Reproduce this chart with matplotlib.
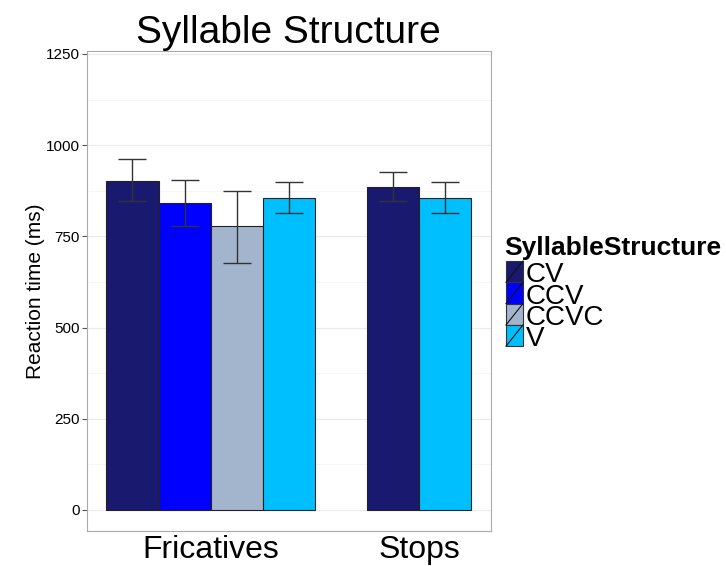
import numpy as np
import matplotlib
matplotlib.use('Agg')
from matplotlib import pyplot as plt
from matplotlib.patches import Rectangle
from matplotlib.lines import Line2D

plt.rcParams['font.family'] = ['Liberation Sans', 'DejaVu Sans']

# mean reaction time with error bar ends, per manner and syllable structure
manners = ['Fricatives', 'Stops']
structures = ['CV', 'CCV', 'CCVC', 'V']
colors = ['#191970', '#0000ff', '#a2b5cd', '#00bfff']

fric_mean = [903, 842, 777, 856]
fric_low = [848, 777, 676, 815]
fric_high = [963, 905, 875, 900]

stop_structs = ['CV', 'V']
stop_mean = [886, 856]
stop_low = [848, 815]
stop_high = [925, 900]

W, H = 726, 566
fig = plt.figure(figsize=(W / 100, H / 100), dpi=100)
ax = fig.add_axes([87 / W, 1 - 531 / H, 404 / W, 480 / H])


def fx(px):
    return px / W


def fy(py):
    return 1 - py / H


w = 0.25
offsets4 = np.array([-1.5, -0.5, 0.5, 1.5]) * w
offsets2 = np.array([-0.5, 0.5]) * w

for i, s in enumerate(structures):
    ax.bar(1 + offsets4[i], fric_mean[i], w, color=colors[i], edgecolor='#222222', lw=0.8, zorder=2)
    ax.errorbar(1 + offsets4[i], fric_mean[i],
                yerr=[[fric_mean[i] - fric_low[i]], [fric_high[i] - fric_mean[i]]],
                fmt='none', ecolor='#333333', elinewidth=1, capsize=10, capthick=1, zorder=3)

for j, s in enumerate(stop_structs):
    c = colors[structures.index(s)]
    ax.bar(2 + offsets2[j], stop_mean[j], w, color=c, edgecolor='#222222', lw=0.8, zorder=2)
    ax.errorbar(2 + offsets2[j], stop_mean[j],
                yerr=[[stop_mean[j] - stop_low[j]], [stop_high[j] - stop_mean[j]]],
                fmt='none', ecolor='#333333', elinewidth=1, capsize=10, capthick=1, zorder=3)

ax.set_xlim(0.407, 2.344)
ax.set_ylim(-57.6, 1258)
ax.set_yticks([0, 250, 500, 750, 1000, 1250])
ax.set_yticks([125, 375, 625, 875, 1125], minor=True)
ax.set_xticks([1, 2])
ax.set_xticklabels(manners, fontsize=23)
ax.tick_params(axis='x', length=0, pad=3)
ax.tick_params(axis='y', labelsize=11, length=3.6, color='#555555', pad=1.5)
ax.tick_params(axis='y', which='minor', length=0)
ax.grid(axis='y', which='major', color='#ebebeb', lw=0.8, zorder=0)
ax.grid(axis='y', which='minor', color='#f5f5f5', lw=0.6, zorder=0)
ax.set_axisbelow(True)
for sp in ax.spines.values():
    sp.set_color('#aaaaaa')
    sp.set_linewidth(0.8)

ax.set_ylabel('Reaction time (ms)', fontsize=15, labelpad=0.5)
fig.text(fx(288), fy(33), 'Syllable Structure', fontsize=28, ha='center', va='center')

# legend drawn by hand: slashed keys, labels overlapping the keys like ggplot
fig.text(fx(504), fy(255), 'SyllableStructure', fontsize=19, fontweight='bold',
         ha='left', va='baseline')
key_top = 261
key_h = 21.3
for i, s in enumerate(structures):
    y0 = key_top + i * key_h
    fig.patches.append(Rectangle((fx(506), fy(y0 + key_h)), fx(17), key_h / H,
                                 facecolor=colors[i], edgecolor='#333333', lw=0.8,
                                 transform=fig.transFigure, figure=fig))
    fig.lines.append(Line2D([fx(506), fx(523)], [fy(y0 + key_h), fy(y0)],
                            color='#111111', lw=0.8, transform=fig.transFigure, figure=fig))
    fig.text(fx(526), fy(y0 + key_h), s, fontsize=20, ha='left', va='baseline')

fig.savefig('out.png', dpi=100)
